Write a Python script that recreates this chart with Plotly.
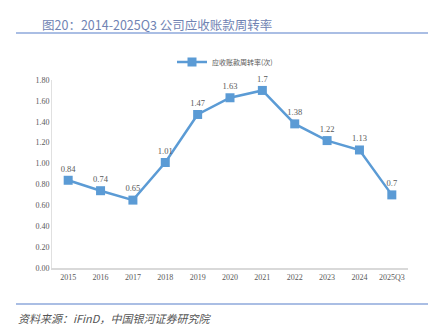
import plotly.graph_objects as go

categories = ["2015", "2016", "2017", "2018", "2019", "2020", "2021", "2022", "2023", "2024", "2025Q3"]
turnover = [0.84, 0.74, 0.65, 1.01, 1.47, 1.63, 1.7, 1.38, 1.22, 1.13, 0.7]
labels = ["0.84", "0.74", "0.65", "1.01", "1.47", "1.63", "1.7", "1.38", "1.22", "1.13", "0.7"]
y_ticks = [0, 0.2, 0.4, 0.6, 0.8, 1.0, 1.2, 1.4, 1.6, 1.8]
y_tick_text = ["0.00", "0.20", "0.40", "0.60", "0.80", "1.00", "1.20", "1.40", "1.60", "1.80"]

W, H = 434, 335
L, R, T, B = 52, 26, 80, 67

fig = go.Figure()
fig.add_trace(go.Scatter(
    x=categories, y=turnover, mode="lines+markers+text",
    name="应收账款周转率(次)",
    text=labels, textposition="top center",
    textfont=dict(family="Liberation Serif", size=8.5, color="#595959"),
    line=dict(color="#5B9BD5", width=2.5),
    marker=dict(symbol="square", size=9, color="#5B9BD5"),
    cliponaxis=False,
))

fig.update_layout(
    width=W, height=H,
    margin=dict(l=L, r=R, t=T, b=B),
    paper_bgcolor="white", plot_bgcolor="white",
    showlegend=True,
    legend=dict(orientation="h", x=(172 - L) / (W - L - R), xanchor="left",
                y=1 + (T - 62) / (H - T - B), yanchor="middle",
                font=dict(family="Noto Sans CJK SC", size=7, color="#595959"),
                itemwidth=30, bgcolor="rgba(0,0,0,0)"),
    xaxis=dict(type="category", showgrid=False, showline=True, linecolor="#d9d9d9", linewidth=2,
               ticks="", tickfont=dict(family="Liberation Serif", size=8, color="#595959"),
               range=[-0.5, len(categories) - 0.5]),
    yaxis=dict(range=[0, 1.8], tickvals=y_ticks, ticktext=y_tick_text, showgrid=False,
               showline=True, linecolor="#e0e0e0", linewidth=1, zeroline=False,
               ticks="", ticklen=0, tickfont=dict(family="Liberation Serif", size=8, color="#595959")),
    font=dict(family="Liberation Serif"),
)

# title and separators
fig.add_annotation(xref="paper", yref="paper", x=(40 - L) / (W - L - R), y=1 + (T - 24) / (H - T - B),
                   xanchor="left", yanchor="middle", showarrow=False,
                   text="图20：2014-2025Q3 公司应收账款周转率",
                   font=dict(family="Noto Sans CJK SC", size=12.5, color="#7083b3"))
fig.add_shape(type="line", xref="paper", yref="paper",
              x0=(16 - L) / (W - L - R), x1=(428 - L) / (W - L - R),
              y0=1 + (T - 33) / (H - T - B), y1=1 + (T - 33) / (H - T - B),
              line=dict(color="#8EA9DB", width=1.5))
fig.add_shape(type="line", xref="paper", yref="paper",
              x0=(16 - L) / (W - L - R), x1=(428 - L) / (W - L - R),
              y0=-(304 - (H - B)) / (H - T - B), y1=-(304 - (H - B)) / (H - T - B),
              line=dict(color="#8EA9DB", width=1.5))
fig.add_annotation(xref="paper", yref="paper", x=(16 - L) / (W - L - R), y=-(318 - (H - B)) / (H - T - B),
                   xanchor="left", yanchor="middle", showarrow=False,
                   text="<i>资料来源：iFinD，中国银河证券研究院</i>",
                   font=dict(family="Noto Sans CJK SC", size=11, color="#555555"))

fig.write_html("out.html")
